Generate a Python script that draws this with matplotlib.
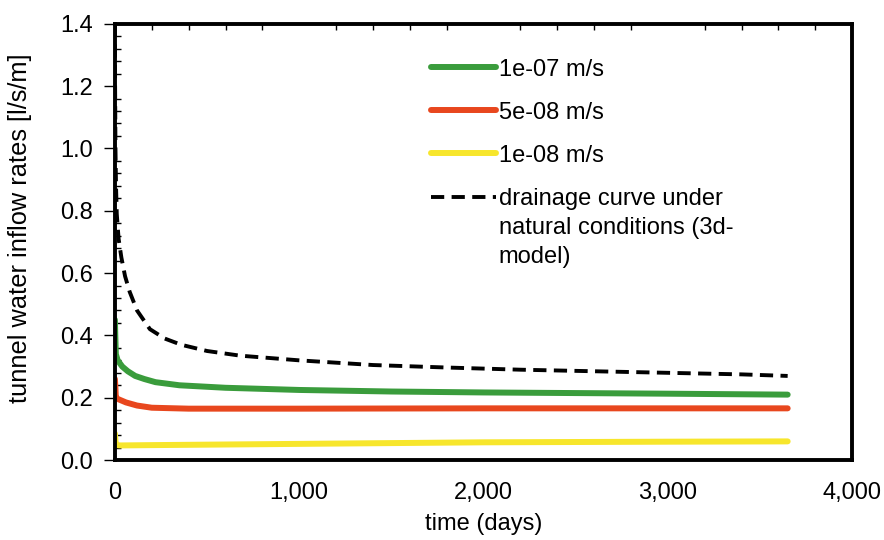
import numpy as np
import matplotlib
matplotlib.use('Agg')
import matplotlib.pyplot as plt
from matplotlib.ticker import MultipleLocator, FuncFormatter

plt.rcParams['font.family'] = ['Liberation Sans', 'DejaVu Sans']

# drainage curve under natural conditions (3d-model)
days_nat = [0, 1, 3, 6, 10, 20, 35, 55, 80, 120, 190, 270, 360, 500, 680,
            1000, 1400, 1800, 2200, 2600, 3000, 3400, 3650]
q_nat = [1.40, 1.20, 1.00, 0.88, 0.79, 0.71, 0.65, 0.59, 0.54, 0.48, 0.42,
         0.39, 0.37, 0.35, 0.335, 0.32, 0.305, 0.297, 0.29, 0.285, 0.28,
         0.275, 0.27]

# k = 1e-07 m/s
days_k1 = [0, 2, 5, 15, 40, 70, 110, 160, 220, 350, 600, 1000, 1500, 2000,
           2500, 3000, 3650]
q_k1 = [0.45, 0.40, 0.34, 0.32, 0.30, 0.285, 0.27, 0.26, 0.25, 0.24, 0.232,
        0.225, 0.22, 0.217, 0.215, 0.213, 0.21]

# k = 5e-08 m/s
days_k2 = [0, 2, 5, 20, 60, 120, 200, 400, 1000, 2000, 3000, 3650]
q_k2 = [0.26, 0.24, 0.20, 0.195, 0.185, 0.175, 0.168, 0.165, 0.165, 0.166,
        0.166, 0.166]

# k = 1e-08 m/s
days_k3 = [0, 3, 8, 30, 200, 1000, 2000, 3000, 3650]
q_k3 = [0.085, 0.06, 0.048, 0.047, 0.048, 0.052, 0.057, 0.059, 0.06]

fig = plt.figure(figsize=(8.84, 5.40), dpi=100)
ax = fig.add_axes([0.130, 0.148, 0.834, 0.808])

ax.plot(days_k1, q_k1, color='#3a9c3c', lw=4.3, solid_capstyle='round', label='1e-07 m/s')
ax.plot(days_k2, q_k2, color='#e8471e', lw=4.3, solid_capstyle='round', label='5e-08 m/s')
ax.plot(days_k3, q_k3, color='#f7e62c', lw=4.3, solid_capstyle='round', label='1e-08 m/s')
ax.plot(days_nat, q_nat, color='black', lw=2.8, ls=(0, (3.4, 1.9)),
        label='drainage curve under\nnatural conditions (3d-\nmodel)')

ax.set_xlim(0, 4000)
ax.set_ylim(0, 1.4)
ax.xaxis.set_major_locator(MultipleLocator(1000))
ax.xaxis.set_minor_locator(MultipleLocator(200))
ax.xaxis.set_major_formatter(FuncFormatter(lambda v, p: f'{int(v):,}'))
ax.yaxis.set_major_locator(MultipleLocator(0.2))
ax.yaxis.set_minor_locator(MultipleLocator(0.04))
ax.yaxis.set_major_formatter(FuncFormatter(lambda v, p: f'{v:.1f}'))

ax.tick_params(axis='x', which='major', length=0, labelsize=17, pad=16)
ax.tick_params(axis='x', which='minor', top=True, bottom=False, direction='in', length=4, width=1)
ax.tick_params(axis='y', which='major', direction='out', length=8, width=1, labelsize=17, pad=8)
ax.tick_params(axis='y', which='minor', direction='in', length=4, width=1)

for s in ax.spines.values():
    s.set_linewidth(2.8)

ax.set_xlabel('time (days)', fontsize=17, labelpad=6)
ax.set_ylabel('tunnel water inflow rates [l/s/m]', fontsize=18.3)
ax.yaxis.set_label_coords(-0.113, 0.532)

leg = ax.legend(loc='upper left', bbox_to_anchor=(0.4, 0.969), frameon=False,
                fontsize=17, handlelength=2.75, handletextpad=0.12, labelspacing=0.9)
for t in leg.get_texts():
    t.set_linespacing(1.4)
# keep handle level with the first text line
for col in leg._legend_handle_box.get_children():
    for row in col.get_children():
        row.align = 'top'

fig.savefig('out.png', dpi=100)
